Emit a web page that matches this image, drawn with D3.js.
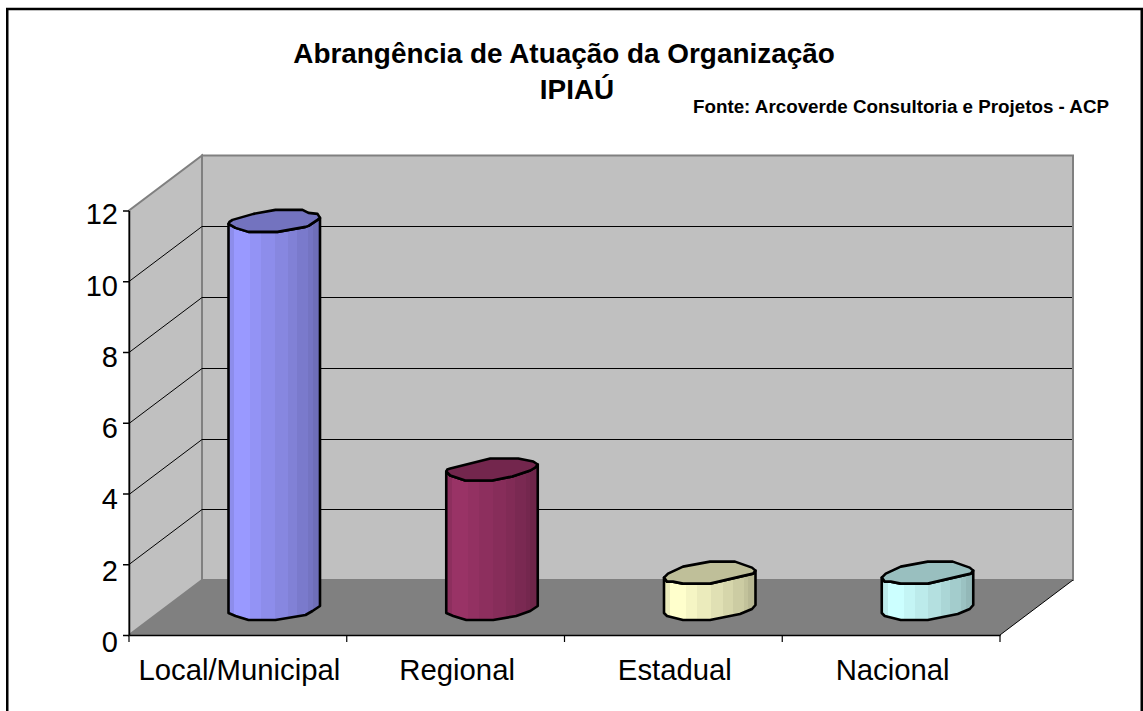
<!DOCTYPE html>
<html><head><meta charset="utf-8">
<script src="https://cdn.jsdelivr.net/npm/d3@7"></script>
<style>html,body{margin:0;padding:0;background:#fff}svg{display:block}text{font-family:"Liberation Sans",Arial,sans-serif;fill:#000}</style>
</head><body><svg width="1143" height="711"></svg>
<script>
const categories = ["Local/Municipal","Regional","Estadual","Nacional"];
const values = [11,4,1,1];
const yTicks = [0,2,4,6,8,10,12];
const colors = ["#9999FF","#993366","#FFFFCC","#CCFFFF"];
const titleLines = ["Abrangência de Atuação da Organização","IPIAÚ"];
const sourceNote = "Fonte: Arcoverde Consultoria e Projetos - ACP";

const svg = d3.select("svg");
const y = d3.scaleLinear().domain([0,12]).range([635,210.5]);
const x = d3.scaleBand().domain(categories).range([129,1000]);
const depth = {dx:73,dy:-55};
const line = d3.line();

svg.append("path").attr("d",line([[7.25,711],[7.25,9],[1141.75,9],[1141.75,711]])).attr("fill","none").attr("stroke","#000").attr("stroke-width",2.5);

const x0=x.range()[0], x1=x.range()[1], y0=y(0), yT=y(12);
svg.append("path").attr("d",line([[x0,y0],[x0+depth.dx,y0+depth.dy],[x1+depth.dx,y0+depth.dy],[x1,y0]])+"Z").attr("fill","#808080");
svg.append("path").attr("d",line([[x0+depth.dx,y0+depth.dy],[x0+depth.dx,yT+depth.dy],[x1+depth.dx,yT+depth.dy],[x1+depth.dx,y0+depth.dy]])+"Z").attr("fill","#C0C0C0").attr("stroke","#808080").attr("stroke-width",2);
svg.append("path").attr("d",line([[x0,y0],[x0,yT],[x0+depth.dx,yT+depth.dy],[x0+depth.dx,y0+depth.dy]])+"Z").attr("fill","#C0C0C0").attr("stroke","#808080").attr("stroke-width",2);
yTicks.filter(d=>d>0&&d<12).forEach(t=>{
  const yy=Math.round(y(t));
  svg.append("path").attr("d",line([[x0,yy+.5],[x0+depth.dx,yy+depth.dy+.5],[x1+depth.dx-1,yy+depth.dy+.5]])).attr("fill","none").attr("stroke","#000").attr("stroke-width",1);
});
svg.append("path").attr("d",line([[x1,y0],[x1+depth.dx,y0+depth.dy]])).attr("stroke","#000").attr("fill","none");

const yAxis=d3.axisLeft(y).tickValues(yTicks).tickSize(6).tickPadding(5).tickSizeOuter(0);
const gy=svg.append("g").attr("transform",`translate(${x0},0)`).call(yAxis);
gy.selectAll("text").attr("font-size",29).attr("y",d=>4+(12-d)/4);
const xAxis=d3.axisBottom(x).tickValues([]).tickSizeOuter(0);
const gx=svg.append("g").attr("transform",`translate(0,${y0})`).call(xAxis);
gy.selectAll("path,line").attr("stroke","#000").attr("stroke-width",1.5);
gx.selectAll("path").attr("stroke","#000").attr("stroke-width",1.5);
const edges=[x0,...categories.map(c=>x(c)+x.bandwidth())];
edges.forEach(e=>svg.append("line").attr("x1",e).attr("x2",e).attr("y1",y0).attr("y2",y0+7).attr("stroke","#000").attr("stroke-width",1.2));
categories.forEach(c=>svg.append("text").attr("x",x(c)+x.bandwidth()/2+1.5).attr("y",679.5).attr("text-anchor","middle").attr("font-size",29.3).text(c));

const barW=91.5, barLeft=99.5, baseLift=22;
const capTops=[
  [[0,0],[1,-2],[4,-4],[25,-10],[47,-14],[74,-14],[80,-11],[89,-10],[91.5,-6]],
  [[0,0],[1,-2],[4,-3],[44,-13],[72,-13],[87,-10],[91.5,-7]],
  [[0,0],[4,-4],[19,-11],[46,-16],[71,-16],[88,-10],[91.5,-7]],
  [[0,0],[4,-4],[19,-11],[46,-16],[71,-16],[88,-10],[91.5,-7]]
];
const capBottoms=[
  [[91.5,-6],[89,-4],[80,2],[77,3],[49,8],[20,8],[7,4],[0,0]],
  [[91.5,-7],[89,-4],[84,-1],[66,5],[46,9],[19,9],[4,4],[0,0]],
  [[91.5,-7],[89,-4],[76,-1],[46,6],[19,6],[9,4],[3,4],[0,0]],
  [[91.5,-7],[89,-4],[76,-1],[46,6],[19,6],[9,4],[3,4],[0,0]]
];
const botEdges=[
  [[0,0],[7,3],[20,7],[47,7],[77,2],[84,-2],[91.5,-7]],
  [[0,0],[7,3],[20,7],[47,7],[70,3],[84,-2],[91.5,-7]],
  [[0,0],[3,3],[19,7],[46,7],[76,1],[88,-4],[91.5,-8]],
  [[0,0],[3,3],[19,7],[46,7],[76,1],[88,-4],[91.5,-8]]
];
const stripOffsets=[0,.065,.24,.36,.51,.65,.75,.87,.92,1];
const shades=[0.92,1,.96,.92,.88,.84,.8,.76,.72];
const defs=svg.append("defs");
categories.forEach((c,i)=>{
  const col=d3.color(colors[i]);
  const left=x(c)+barLeft;
  const topY=y(values[i])-baseLift, botY=y(0)-baseLift;
  const g=svg.append("g");
  const capBottom=capBottoms[i], capTop=capTops[i];
  const sidePts=[[left,topY],...botEdges[i].map(p=>[left+p[0],botY+p[1]]),...capBottom.map(p=>[left+p[0],topY+p[1]])];
  const grad=defs.append("linearGradient").attr("id","g"+i).attr("x1",0).attr("x2",1).attr("y1",0).attr("y2",0);
  shades.forEach((s,k)=>{
    const c2=d3.rgb(col.r*s,col.g*s,col.b*s).formatHex();
    grad.append("stop").attr("offset",stripOffsets[k]).attr("stop-color",c2);
    grad.append("stop").attr("offset",stripOffsets[k+1]).attr("stop-color",c2);
  });
  g.append("path").attr("d",line(sidePts)+"Z").attr("fill",`url(#g${i})`).attr("stroke","#000").attr("stroke-width",2.6).attr("stroke-linejoin","round");
  const capPts=[...capTop,...capBottom].map(p=>[left+p[0],topY+p[1]]);
  const s=0.75;
  g.append("path").attr("d",line(capPts)+"Z").attr("fill",d3.rgb(col.r*s,col.g*s,col.b*s).formatHex()).attr("stroke","#000").attr("stroke-width",2.6).attr("stroke-linejoin","round");
});

svg.append("text").attr("x",564).attr("y",63).attr("text-anchor","middle").attr("font-size",27.9).attr("font-weight","bold").text(titleLines[0]);
svg.append("text").attr("x",577).attr("y",99).attr("text-anchor","middle").attr("font-size",27.9).attr("font-weight","bold").text(titleLines[1]);
svg.append("text").attr("x",1109).attr("y",113).attr("text-anchor","end").attr("font-size",18.8).attr("font-weight","bold").text(sourceNote);
</script></body></html>
